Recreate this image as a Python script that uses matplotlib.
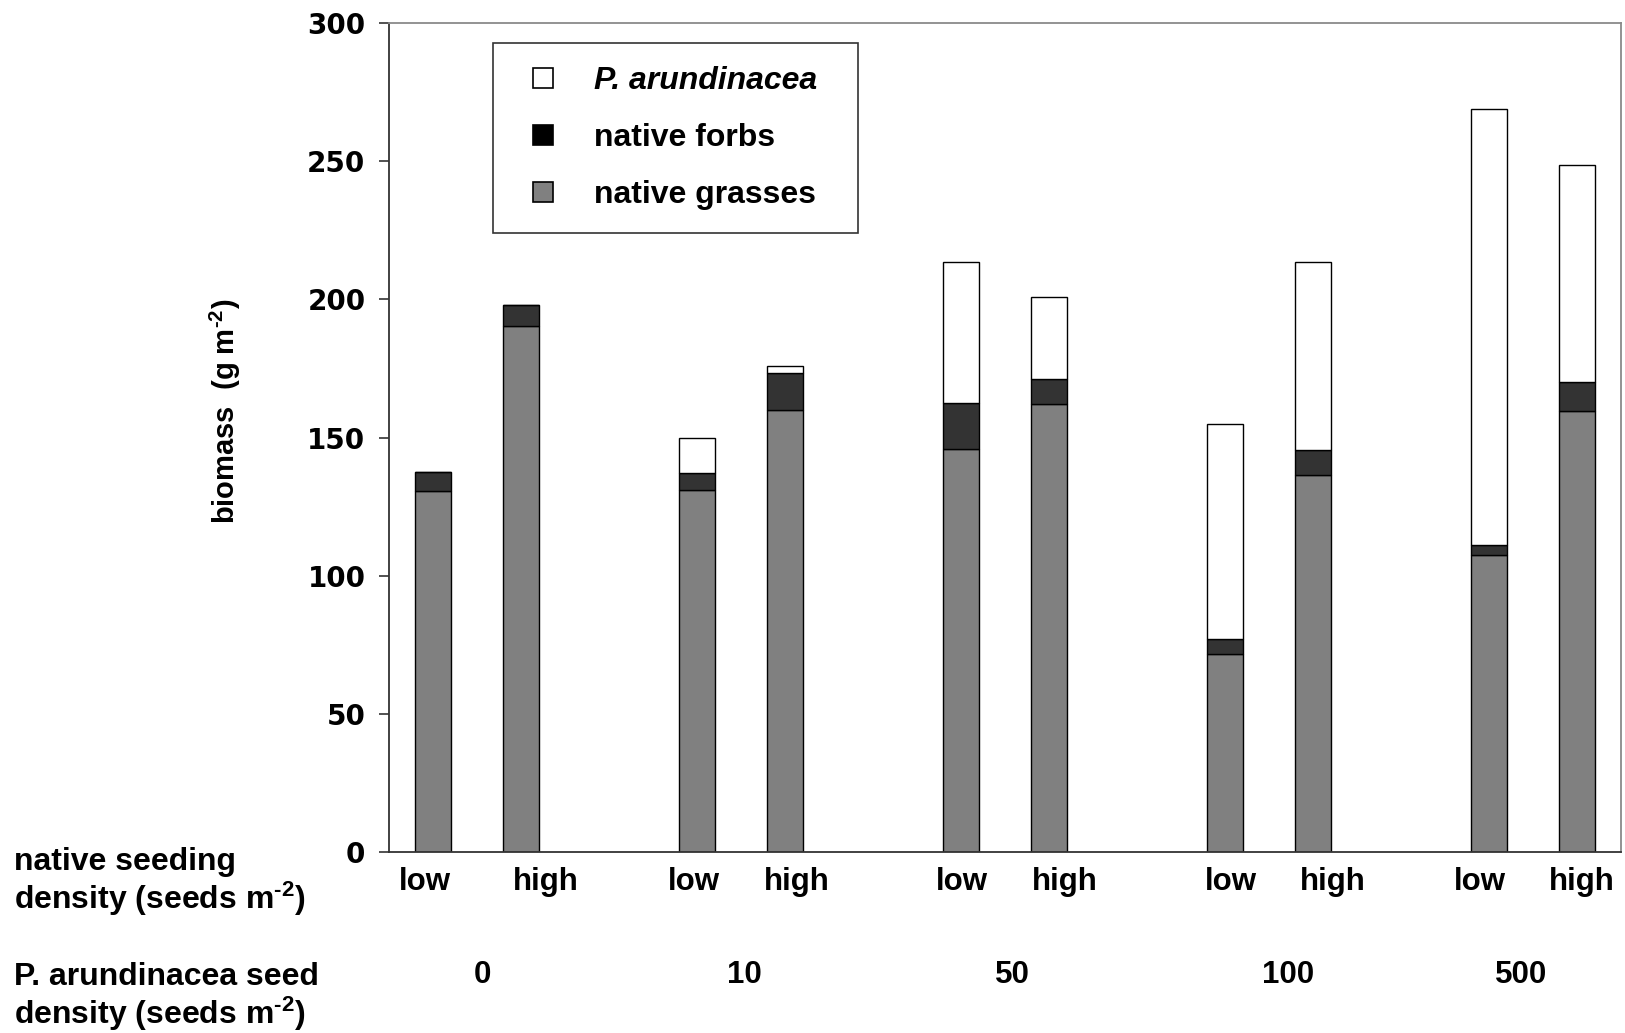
import numpy as np
import matplotlib.pyplot as plt
import matplotlib.transforms as mtransforms
from matplotlib.lines import Line2D

plt.rcParams['font.family'] = ['Liberation Sans', 'DejaVu Sans']
plt.rcParams['font.weight'] = 'bold'
plt.rcParams['mathtext.fontset'] = 'custom'
plt.rcParams['mathtext.rm'] = 'Liberation Sans:bold'
plt.rcParams['mathtext.it'] = 'Liberation Sans:bold:italic'
plt.rcParams['mathtext.bf'] = 'Liberation Sans:bold'
plt.rcParams['mathtext.default'] = 'rm'

# P. arundinacea seed density groups and native seeding density within each
phalaris_density = ['0', '10', '50', '100', '500']
native_density = ['low', 'high']

# biomass (g m-2), order: (0 low, 0 high, 10 low, 10 high, ...)
grasses = [130.5, 190.5, 131, 160, 146, 162, 71.5, 136.5, 107.5, 159.5]
forbs = [7, 7.5, 6, 13.5, 16.5, 9, 5.5, 9, 3.5, 10.5]
phalaris = [0, 0, 13, 2.5, 51, 30, 78, 68, 158, 78.5]

grasses = np.array(grasses)
forbs = np.array(forbs)
phalaris = np.array(phalaris)

n_groups = len(phalaris_density)
n_sub = len(native_density)
x = np.array([g * (n_sub + 1) + k for g in range(n_groups) for k in range(n_sub)])
group_centers = x.reshape(n_groups, n_sub).mean(axis=1)

# the labels in the original were placed by hand, slightly off the bars
tick_shift = np.array([-0.09, 0.28, -0.04, 0.13, 0.01, 0.18, 0.07, 0.23, -0.1, 0.06])
group_shift = np.array([0.06, 0.04, 0.09, 0.22, -0.14])

fig = plt.figure(figsize=(16.25, 10.33), dpi=100)
ax = fig.add_axes([0.2394, 0.1752, 0.7581, 0.8025])

w = 0.41
ax.bar(x, grasses, w, color='#808080', edgecolor='black', linewidth=1.0)
ax.bar(x, forbs, w, bottom=grasses, color='#333333', edgecolor='black', linewidth=1.0)
ax.bar(x, phalaris, w, bottom=grasses + forbs, color='white', edgecolor='black', linewidth=1.0)

ax.set_xlim(-0.5, x.max() + 0.5)
ax.set_ylim(0, 300)
ax.set_yticks(np.arange(0, 301, 50))
ax.set_yticklabels([str(v) for v in range(0, 301, 50)],
                   family='DejaVu Sans', fontweight='bold', fontsize=20)
ax.tick_params(axis='y', direction='out', length=7.5, width=1.2, color='#333333', pad=9.5)

ax.set_xticks(x + tick_shift)
ax.set_xticklabels(native_density * n_groups, fontsize=22.5, fontweight='bold')
ax.tick_params(axis='x', length=0, pad=10.5)

for s in ['left', 'bottom']:
    ax.spines[s].set_color('#333333')
    ax.spines[s].set_linewidth(1.3)
for s in ['top', 'right']:
    ax.spines[s].set_color('#8a8a8a')
    ax.spines[s].set_linewidth(1.3)

# group labels under the low/high labels
trans = mtransforms.blended_transform_factory(ax.transData, fig.transFigure)
for cx, lab in zip(group_centers + group_shift, phalaris_density):
    ax.text(cx, 0.0561, lab, transform=trans, ha='center', va='center',
            fontsize=22.5, fontweight='bold')

sup = r'$^{\text{-2}}$'
fig.text(0.0089, 0.1455, 'native seeding\ndensity (seeds m' + sup + ')',
         ha='left', va='center', fontsize=23, fontweight='bold', linespacing=1.1)
fig.text(0.0089, 0.0342, 'P. arundinacea seed\ndensity (seeds m' + sup + ')',
         ha='left', va='center', fontsize=23, fontweight='bold', linespacing=1.1)

fig.text(0.139, 0.602, 'biomass  (g m' + sup + ')', rotation=90, ha='center', va='center',
         fontsize=21, fontweight='bold')

mk = dict(marker='s', linestyle='none', markersize=14.2, markeredgecolor='black',
          markeredgewidth=1.2)
handles = [Line2D([], [], markerfacecolor='white', **mk),
           Line2D([], [], markerfacecolor='black', **mk),
           Line2D([], [], markerfacecolor='#808080', **mk)]
labels = ['P. arundinacea', 'native forbs', 'native grasses']
leg = fig.legend(handles, labels, loc='upper left',
                 bbox_to_anchor=(0.3034, 0.7725, 0.2246, 0.1854), mode='expand',
                 borderaxespad=0, fontsize=23, frameon=True, fancybox=False,
                 edgecolor='black', borderpad=0.7, handlelength=1.76,
                 handletextpad=0.7, labelspacing=0.85)
leg.get_frame().set_linewidth(1.2)
leg.get_texts()[0].set_fontstyle('italic')

fig.savefig('out.png', dpi=100)
